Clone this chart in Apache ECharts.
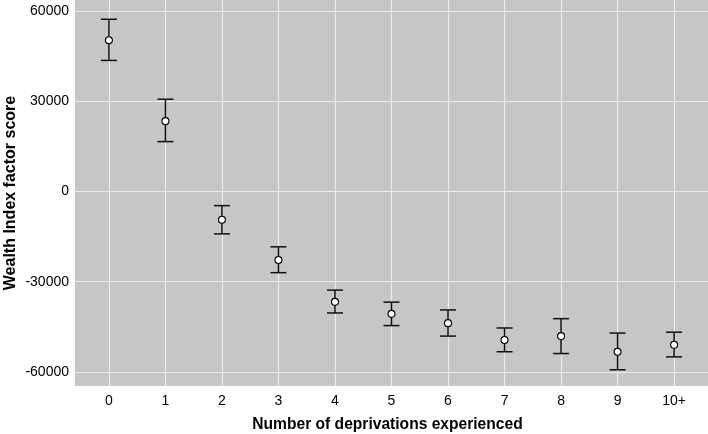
<!DOCTYPE html>
<html>
<head>
<meta charset="utf-8">
<script src="https://cdn.jsdelivr.net/npm/echarts@6/dist/echarts.min.js"></script>
<style>html,body{margin:0;padding:0;background:#fff}#c{width:708px;height:434px}</style>
</head>
<body>
<div id="c"></div>
<script>
var categories = ['0','1','2','3','4','5','6','7','8','9','10+'];
var means = [50300, 23400, -9400, -22800, -36700, -40700, -43800, -49400, -48100, -53300, -51000];
var lower = [43600, 16600, -14100, -27000, -40400, -44600, -48100, -53300, -53900, -59300, -55000];
var upper = [57300, 30700, -4700, -18400, -32800, -36800, -39400, -45400, -42300, -47100, -46800];
var yTicks = [-60000, -30000, 0, 30000, 60000];

var xIdx = categories.map(function(_, i){ return i; });
var chart = echarts.init(document.getElementById('c'), null, {renderer:'canvas'});
var gridLines = [];
xIdx.forEach(function(i){ gridLines.push({xAxis: i}); });
yTicks.forEach(function(v){ gridLines.push({yAxis: v}); });

chart.setOption({
  animation: false,
  grid: {left: 75, right: 0, top: 0, bottom: 48, show: true, backgroundColor: '#c6c6c6', borderWidth: 0, containLabel: false, outerBoundsMode: 'none'},
  xAxis: {
    type: 'value', min: -0.6, max: 10.6,
    name: 'Number of deprivations experienced', nameLocation: 'middle', nameGap: 31, nameMoveOverlap: false,
    nameTextStyle: {fontFamily: 'Liberation Sans', fontWeight: 'bold', fontSize: 15.6, color: '#000', padding: [0, 8, 0, 0]},
    axisLine: {show: false},
    axisTick: {show: true, customValues: xIdx, length: 4, lineStyle: {color: '#333', width: 1}},
    axisLabel: {customValues: xIdx, formatter: function(v){ return categories[Math.round(v)]; }, fontFamily: 'Liberation Sans', fontSize: 14, color: '#000', margin: 8},
    splitLine: {show: false}
  },
  yAxis: {
    type: 'value', min: -64700, max: 63700,
    name: 'Wealth Index factor score', nameLocation: 'middle', nameGap: 56, nameMoveOverlap: false,
    nameTextStyle: {fontFamily: 'Liberation Sans', fontWeight: 'bold', fontSize: 16, color: '#000'},
    axisLine: {show: false},
    axisTick: {show: true, customValues: yTicks, length: 4, lineStyle: {color: '#333', width: 1}},
    axisLabel: {customValues: yTicks, formatter: function(v){ return String(v); }, fontFamily: 'Liberation Sans', fontSize: 14, color: '#000', margin: 6},
    splitLine: {show: false}
  },
  series: [
    {
      type: 'line', data: [], silent: true, z: 1,
      markLine: {silent: true, z: 1, symbol: 'none', label: {show: false}, animation: false,
        lineStyle: {color: '#ececec', width: 1.2, type: 'solid'}, data: gridLines}
    },
    {
      type: 'custom', z: 10,
      data: xIdx.map(function(i){ return [i, lower[i], upper[i]]; }),
      renderItem: function(params, api){
        var x = api.value(0);
        var lo = api.coord([x, api.value(1)]);
        var hi = api.coord([x, api.value(2)]);
        var cx = lo[0];
        var hw = 8;
        var st = {stroke: '#111', lineWidth: 1.5};
        return {type: 'group', children: [
          {type: 'line', shape: {x1: cx, y1: lo[1], x2: cx, y2: hi[1]}, style: st},
          {type: 'line', shape: {x1: cx-hw, y1: lo[1], x2: cx+hw, y2: lo[1]}, style: st},
          {type: 'line', shape: {x1: cx-hw, y1: hi[1], x2: cx+hw, y2: hi[1]}, style: st}
        ]};
      }
    },
    {
      type: 'scatter', z: 11, symbol: 'circle', symbolSize: 7,
      itemStyle: {color: '#fff', borderColor: '#000', borderWidth: 1.1, opacity: 1},
      data: xIdx.map(function(i){ return [i, means[i]]; })
    }
  ]
});
</script>
</body>
</html>
